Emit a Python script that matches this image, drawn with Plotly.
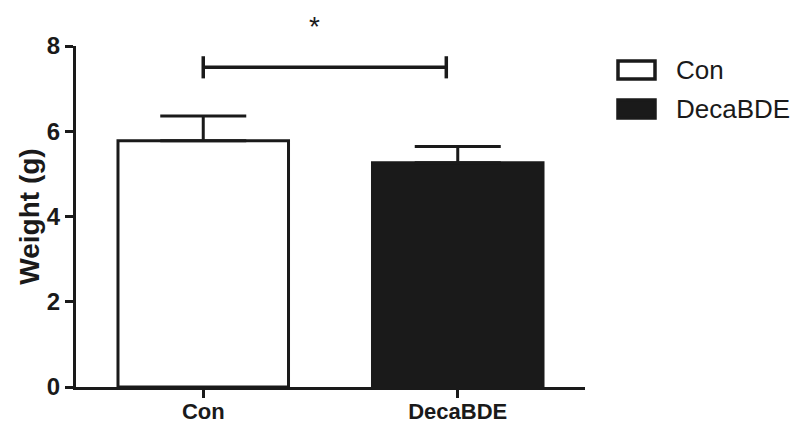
import plotly.graph_objects as go

categories = ["Con", "DecaBDE"]
means = [5.78, 5.26]
errors = [0.58, 0.38]
fill_colors = ["#ffffff", "#1a1a1a"]
y_ticks = [0, 2, 4, 6, 8]
y_title = "Weight (g)"
sig_label = "*"
sig_y = 7.5
sig_x = [0, 0.955]

INK = "#1a1a1a"
FONT = "Liberation Sans, Arial, sans-serif"

fig = go.Figure()
fig.add_trace(go.Bar(
    x=categories, y=means, width=0.67,
    marker=dict(color=fill_colors, line=dict(color=INK, width=3)),
    error_y=dict(type="data", array=errors, arrayminus=[0, 0], symmetric=False,
                 color=INK, thickness=3, width=43),
    showlegend=False,
))

# significance bracket
fig.add_shape(type="line", xref="x", yref="y", x0=sig_x[0], x1=sig_x[1], y0=sig_y, y1=sig_y,
              line=dict(color=INK, width=3.5))
for xv in sig_x:
    fig.add_shape(type="line", xref="x", yref="y", x0=xv, x1=xv, y0=sig_y - 0.26, y1=sig_y + 0.26,
                  line=dict(color=INK, width=3.5))
fig.add_annotation(x=(sig_x[0] + sig_x[1]) / 2 - 0.04, y=1, xref="x", yref="paper", yshift=20,
                   yanchor="middle", text=sig_label, showarrow=False,
                   font=dict(family=FONT, size=28, color=INK))

# custom legend
legend_rows = [(-24, 0), (-63, 1)]
for yoff, i in legend_rows:
    fig.add_shape(type="rect", xref="paper", yref="paper", xsizemode="pixel", ysizemode="pixel",
                  xanchor=1, yanchor=1, x0=33, x1=70, y0=yoff + 9, y1=yoff - 9,
                  fillcolor=fill_colors[i], line=dict(color=INK, width=3.5))
    fig.add_annotation(xref="paper", yref="paper", x=1, y=1, xshift=89, yshift=yoff,
                       xanchor="left", yanchor="middle", text=categories[i], showarrow=False,
                       font=dict(family=FONT, size=26, color=INK))

# the page places the figure 8px in from the top-left corner
fig.update_layout(
    width=791, height=416,
    margin=dict(l=68, r=214, t=38, b=37),
    paper_bgcolor="white", plot_bgcolor="white",
    bargap=0.33,
    font=dict(family=FONT, color=INK),
    xaxis=dict(range=[-0.5, 1.5], showline=True, linecolor=INK, linewidth=3,
               ticks="outside", ticklen=8, tickwidth=2.5, tickcolor=INK,
               tickfont=dict(family=FONT, size=22, color=INK, weight="bold"),
               ticklabelstandoff=-5,
               showgrid=False, zeroline=False, fixedrange=True, automargin=False),
    yaxis=dict(range=[0, 8], tickvals=y_ticks, showline=True, linecolor=INK, linewidth=3,
               ticks="outside", ticklen=8, tickwidth=2.5, tickcolor=INK,
               tickfont=dict(family=FONT, size=24, color=INK, weight="bold"),
               title=dict(text=y_title, standoff=0,
                          font=dict(family=FONT, size=28, color=INK, weight="bold")),
               showgrid=False, zeroline=False, fixedrange=True, automargin=False),
)

fig.write_html("out.html")
